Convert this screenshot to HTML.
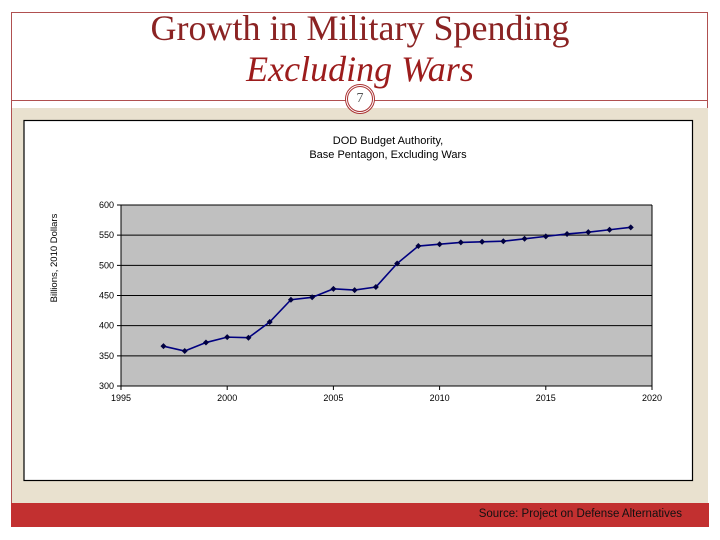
<!DOCTYPE html>
<html><head><meta charset="utf-8"><style>
body{margin:0;width:720px;height:540px;background:#fff;position:relative;overflow:hidden;font-family:"Liberation Sans",sans-serif}
</style></head><body>
<div style="position:absolute;left:11px;top:12px;width:697px;height:491px;border:1px solid #b05050;box-sizing:border-box"></div>
<div style="position:absolute;left:0;top:8px;width:720px;text-align:center;font-family:'Liberation Serif',serif;color:#8b2323;font-size:36px;line-height:41px">Growth in Military Spending<br><i style="color:#9c1c1c">Excluding Wars</i></div>
<div style="position:absolute;left:12px;top:100px;width:696px;height:1px;background:#b05050"></div>
<div style="position:absolute;left:12px;top:108px;width:696px;height:395px;background:#e9e1cf"></div>
<div style="position:absolute;left:345px;top:84px;width:30px;height:30px;border-radius:50%;background:#fff;border:3px double #a33;box-sizing:border-box;text-align:center;font-family:'Liberation Serif',serif;font-size:14px;line-height:24px;color:#555">7</div>
<div style="position:absolute;left:11px;top:503px;width:698px;height:24px;background:#c23030"></div>
<div style="position:absolute;right:38px;top:508px;font-size:11.5px;color:#111">Source: Project on Defense Alternatives</div>
<svg style="position:absolute;left:0;top:0" width="720" height="540" id="chart">
<rect x="24" y="120.5" width="668.5" height="360" fill="#fff" stroke="#000" stroke-width="1.2"/>
<text x="388" y="144" font-size="11" text-anchor="middle" font-family="Liberation Sans">DOD Budget Authority,</text>
<text x="388" y="158" font-size="11" text-anchor="middle" font-family="Liberation Sans">Base Pentagon, Excluding Wars</text>
<text transform="translate(57,258) rotate(-90)" font-size="9.5" text-anchor="middle" font-family="Liberation Sans">Billions, 2010 Dollars</text>
<g id="g"></g>
</svg>
<script>
const years=[1997,1998,1999,2000,2001,2002,2003,2004,2005,2006,2007,2008,2009,2010,2011,2012,2013,2014,2015,2016,2017,2018,2019];
const spending=[366,358,372,381,380,406,443,447,461,459,464,503,532,535,538,539,540,544,548,552,555,559,563];
const xTicks=[1995,2000,2005,2010,2015,2020];
const yTicks=[300,350,400,450,500,550,600];
const X0=121,X1=652,Y0=386,Y1=205;
const xs=v=>X0+(v-1995)/25*(X1-X0);
const ys=v=>Y0-(v-300)/300*(Y0-Y1);
const g=document.getElementById('g');const NS='http://www.w3.org/2000/svg';
function mk(t,a){const e=document.createElementNS(NS,t);for(const k in a)e.setAttribute(k,a[k]);g.appendChild(e);return e;}
const pa=mk('rect',{x:X0,y:Y1,width:X1-X0,height:Y0-Y1,fill:'#c0c0c0'});


yTicks.forEach(v=>{
const l=mk('line',{x1:X0-4,x2:X1,y1:ys(v),y2:ys(v),stroke:'#000','stroke-width':1});


const t=mk('text',{x:X0-7,y:ys(v)+3,'font-size':9,'text-anchor':'end','font-family':'Liberation Sans'});t.textContent=v;


});
xTicks.forEach(v=>{
const l=mk('line',{x1:xs(v),x2:xs(v),y1:Y0,y2:Y0+4,stroke:'#000'});


const t=mk('text',{x:xs(v),y:Y0+15,'font-size':9,'text-anchor':'middle','font-family':'Liberation Sans'});t.textContent=v;


});
const ax=mk('path',{d:`M${X0},${Y1}V${Y0}H${X1}V${Y1}`,fill:'none',stroke:'#000'});


const ln=mk('polyline',{points:years.map((y,i)=>xs(y)+','+ys(spending[i])).join(' '),fill:'none',stroke:'#000080','stroke-width':1.6});


years.forEach((y,i)=>{
const cx=xs(y),cy=ys(spending[i]);
const m=mk('path',{d:`M${cx},${cy-3}L${cx+3},${cy}L${cx},${cy+3}L${cx-3},${cy}Z`,fill:'#000040'});


});
</script>
</body></html>
